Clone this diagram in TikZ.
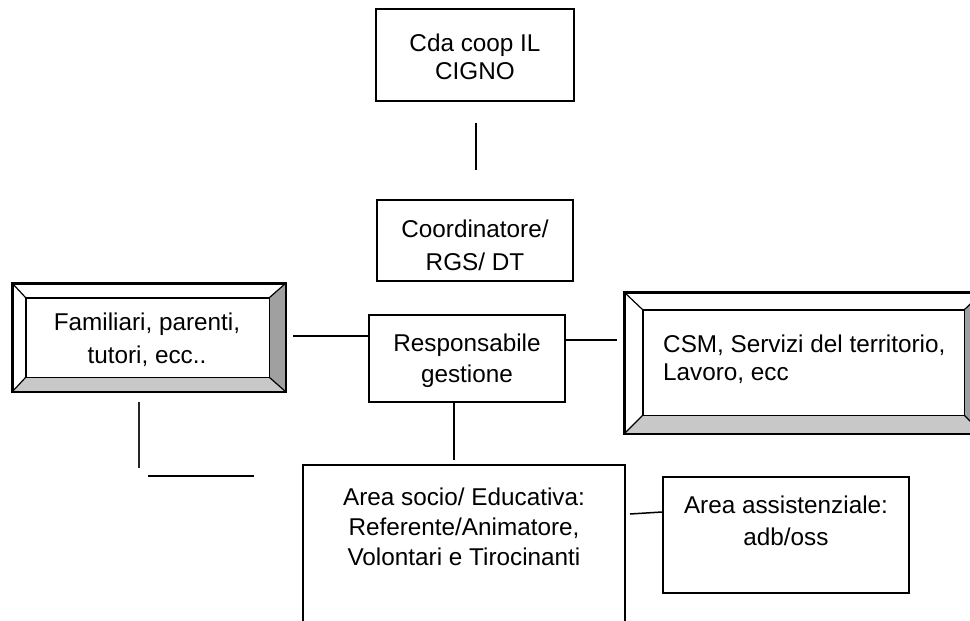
\documentclass[tikz,border=0pt]{standalone}
\usepackage{fontspec}
\setmainfont{Liberation Sans}
\definecolor{bevR}{RGB}{160,160,160}
\definecolor{bevB}{RGB}{200,200,200}
\tikzset{
  box/.style={draw=black, line width=1.6pt, fill=white, inner sep=0pt},
  plainframe/.style={inner sep=0pt},
  conn/.style={draw=black, line width=1.5pt},
  thickconn/.style={draw=black, line width=2.6pt},
  lbl/.style={anchor=base, align=center, inner sep=0pt, text=black},
}
\newcommand{\fs}[1]{\fontsize{24.3}{#1}\selectfont}
\begin{document}
\begin{tikzpicture}[x=1pt,y=-1pt]
\useasboundingbox (0,0) rectangle (970,621);
\clip (0,0) rectangle (970,621);

% plain boxes
\node[box, minimum width=198pt, minimum height=92pt] (cda) at (475,55) {};
\node[box, minimum width=196pt, minimum height=81pt] (coord) at (475,240.5) {};
\node[box, minimum width=196pt, minimum height=87pt] (resp) at (467,358.5) {};
\node[box, minimum width=246pt, minimum height=116pt] (assist) at (786,535) {};
\node[plainframe, minimum width=322pt, minimum height=200pt] (soc) at (464,565) {};
\draw[line width=1.6pt] (soc.south west) -- (soc.north west) -- (soc.north east) -- (soc.south east);

% bevel box: Familiari
\node[box, minimum width=272pt, minimum height=107pt] (fam) at (149,337.5) {};
\node[inner sep=0pt, minimum width=243pt, minimum height=79pt] (famI) at (147.5,337.5) {};
\fill[bevR] (fam.north east) -- (famI.north east) -- (famI.south east) -- (fam.south east) -- cycle;
\fill[bevB] (fam.south west) -- (famI.south west) -- (famI.south east) -- (fam.south east) -- cycle;
\draw[line width=1.6pt] (fam.north west) rectangle (fam.south east);
\draw[line width=1.4pt] (famI.north west) rectangle (famI.south east);
\draw[line width=1.2pt] (fam.north west) -- (famI.north west)
  (fam.north east) -- (famI.north east)
  (fam.south west) -- (famI.south west)
  (fam.south east) -- (famI.south east);

% bevel box: CSM
\node[box, minimum width=357pt, minimum height=140pt] (csm) at (803.5,363) {};
\node[inner sep=0pt, minimum width=321pt, minimum height=105pt] (csmI) at (803.5,362.5) {};
\fill[bevR] (csm.north east) -- (csmI.north east) -- (csmI.south east) -- (csm.south east) -- cycle;
\fill[bevB] (csm.south west) -- (csmI.south west) -- (csmI.south east) -- (csm.south east) -- cycle;
\draw[line width=1.6pt] (csm.north west) rectangle (csm.south east);
\draw[line width=1.4pt] (csmI.north west) rectangle (csmI.south east);
\draw[line width=1.2pt] (csm.north west) -- (csmI.north west)
  (csm.north east) -- (csmI.north east)
  (csm.south west) -- (csmI.south west)
  (csm.south east) -- (csmI.south east);

% texts (anchor = baseline of the last line)
\node[lbl, font=\fs{28}] (cdaT) at (475,79) {Cda coop IL\\CIGNO};
\node[lbl, font=\fs{33}] (coordT) at (475,270) {Coordinatore/\\RGS/ DT};
\node[lbl, font=\fs{31}] (respT) at (467,382) {Responsabile\\gestione};
\node[lbl, font=\fs{33}] (famT) at (147,363) {Familiari, parenti,\\tutori, ecc..};
\node[anchor=base west, align=left, inner sep=0pt, font=\fs{28}] (csmT) at (663,380) {CSM, Servizi del territorio,\\Lavoro, ecc};
\node[lbl, font=\fs{30}] (socT) at (464,565) {Area socio/ Educativa:\\Referente/Animatore,\\Volontari e Tirocinanti};
\node[lbl, font=\fs{32}] (assistT) at (786,545) {Area assistenziale:\\adb/oss};

% connector end points
\coordinate (c1a) at (476,123);
\coordinate (c1b) at (476,170);
\coordinate (c2a) at (293,336);
\coordinate (c3b) at (617,340);
\coordinate (c4b) at (454,460);
\coordinate (c5a) at (630,514);
\coordinate (c6a) at (139,402);
\coordinate (c6b) at (139,468);
\coordinate (c7a) at (148,476);
\coordinate (c7b) at (254,476);

% connectors
\draw[conn] (c1a) -- (c1b);
\draw[conn] (c2a) -- (c2a -| resp.west);
\draw[conn] (c3b -| resp.east) -- (c3b);
\draw[conn] (c4b |- resp.south) -- (c4b);
\draw[conn] (c5a) -- (assist.west |- 0,512);
\draw[thickconn, draw=black!85] (c6a) -- (c6b);
\draw[thickconn] (c7a) -- (c7b);
\end{tikzpicture}
\end{document}
